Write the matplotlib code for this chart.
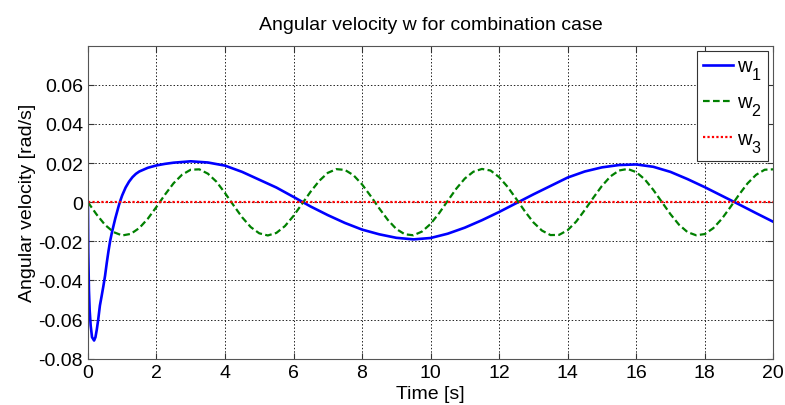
import numpy as np
import matplotlib.pyplot as plt

plt.rcParams['font.family'] = ['Liberation Sans', 'DejaVu Sans']
plt.rcParams['mathtext.fontset'] = 'custom'
plt.rcParams['mathtext.rm'] = 'Liberation Sans'
plt.rcParams['mathtext.it'] = 'Liberation Sans'

# bigger, lower subscripts, like the MATLAB legend
try:
    import matplotlib._mathtext as _mt
    _mt.FontConstantsBase.sub1 = 0.75
    _mt.SHRINK_FACTOR = 0.8
except Exception:
    pass

# w1 (dense near the start transient)
t1 = [0, 0.01, 0.03, 0.05, 0.08, 0.12, 0.18, 0.22, 0.26, 0.3, 0.35, 0.4, 0.45, 0.5,
      0.55, 0.6, 0.65, 0.7, 0.75, 0.8, 0.85, 0.9, 0.95, 1.0, 1.1, 1.2, 1.3, 1.4, 1.5,
      1.75, 2.0, 2.25, 2.5, 3.0, 3.5, 4.0, 4.5, 5.0, 5.5, 6.0, 6.5, 7.0, 7.5, 8.0,
      8.5, 9.0, 9.5, 10.0, 10.5, 11.0, 11.5, 12.0, 12.5, 13.0, 13.5, 14.0, 14.5,
      15.0, 15.5, 16.0, 16.5, 17.0, 17.5, 18.0, 18.5, 19.0, 19.5, 20.0]
w1 = [0, -0.025, -0.045, -0.055, -0.063, -0.069, -0.0707, -0.069, -0.065, -0.060,
      -0.0528, -0.048, -0.043, -0.0376, -0.031, -0.025, -0.0197, -0.0155, -0.0118,
      -0.0082, -0.0050, -0.0018, 0.0010, 0.0035, 0.0075, 0.0105, 0.0128, 0.0145,
      0.0157, 0.0176, 0.0188, 0.0196, 0.0202, 0.0209, 0.0203, 0.0187, 0.0155,
      0.0115, 0.0075, 0.0027, -0.0022, -0.0066, -0.0106, -0.0140, -0.0164,
      -0.0182, -0.0190, -0.0183, -0.0161, -0.0130, -0.0092, -0.0050, -0.0005,
      0.0040, 0.0083, 0.0126, 0.0157, 0.0178, 0.0190, 0.0193, 0.0181, 0.0155,
      0.0118, 0.0077, 0.0033, -0.0011, -0.0056, -0.0100]

# w2 read every 0.25 s
t2 = np.arange(0, 20.01, 0.25)
w2 = [0, -0.0062, -0.0116, -0.0153, -0.0170, -0.0162, -0.0132, -0.0084, -0.0024,
      0.0039, 0.0097, 0.0141, 0.0166, 0.0168, 0.0146, 0.0105, 0.0047, -0.0016,
      -0.0077, -0.0127, -0.0159, -0.0170, -0.0157, -0.0122, -0.0070, -0.0008,
      0.0054, 0.0109, 0.0150, 0.0169, 0.0165, 0.0138, 0.0091, 0.0032, -0.0031,
      -0.0090, -0.0137, -0.0164, -0.0169, -0.0150, -0.0111, -0.0056, 0.0007,
      0.0069, 0.0121, 0.0156, 0.0170, 0.0162, 0.0128, 0.0078, 0.0017, -0.0046,
      -0.0103, -0.0145, -0.0168, -0.0167, -0.0143, -0.0099, -0.0040, 0.0023,
      0.0083, 0.0132, 0.0162, 0.0170, 0.0154, 0.0117, 0.0063, 0.0001, -0.0061,
      -0.0115, -0.0153, -0.0169, -0.0163, -0.0133, -0.0085, -0.0025, 0.0038,
      0.0096, 0.0140, 0.0166, 0.0168]

t3 = [0, 20]
w3 = [0, 0]

xticks = np.arange(0, 21, 2)
yticks = [-0.08, -0.06, -0.04, -0.02, 0, 0.02, 0.04, 0.06]
ytick_labels = ['-0.08', '-0.06', '-0.04', '-0.02', '0', '0.02', '0.04', '0.06']

fig = plt.figure(figsize=(7.85, 4.06), dpi=100)
ax = fig.add_axes([0.112, 0.114, 0.873, 0.771])

ax.plot(t1, w1, color='#0000ff', lw=1.9, label=r'w$_1$')
ax.plot(t2, w2, color='#008000', lw=1.6, ls=(0, (3, 1.5)), label=r'w$_2$')
ax.plot(t3, w3, color='#ff0000', lw=1.6, ls=(0, (1, 1)), label=r'w$_3$')

ax.set_xlim(0, 20)
ax.set_ylim(-0.08, 0.08)
ax.set_xticks(xticks)
ax.set_yticks(yticks)
ax.set_yticklabels(ytick_labels)
ax.tick_params(direction='in', top=True, right=True, labelsize=14, length=4, color='#333333')
ax.grid(True, color='#222222', ls=(0, (1.5, 2)), lw=0.7)
for s in ax.spines.values():
    s.set_color('#555555')

ax.set_title('Angular velocity w for combination case', fontsize=14, pad=12)
ax.set_xlabel('Time [s]', fontsize=14, labelpad=3)
ax.set_ylabel('Angular velocity [rad/s]', fontsize=14, labelpad=2)

leg = ax.legend(loc='upper right', fontsize=14.5, fancybox=False, framealpha=1,
                edgecolor='#333333', handlelength=1.5, borderaxespad=0.25,
                labelspacing=0.55, borderpad=0.3, handletextpad=0.2)
leg.get_frame().set_linewidth(0.8)

fig.savefig('out.png', dpi=100)
